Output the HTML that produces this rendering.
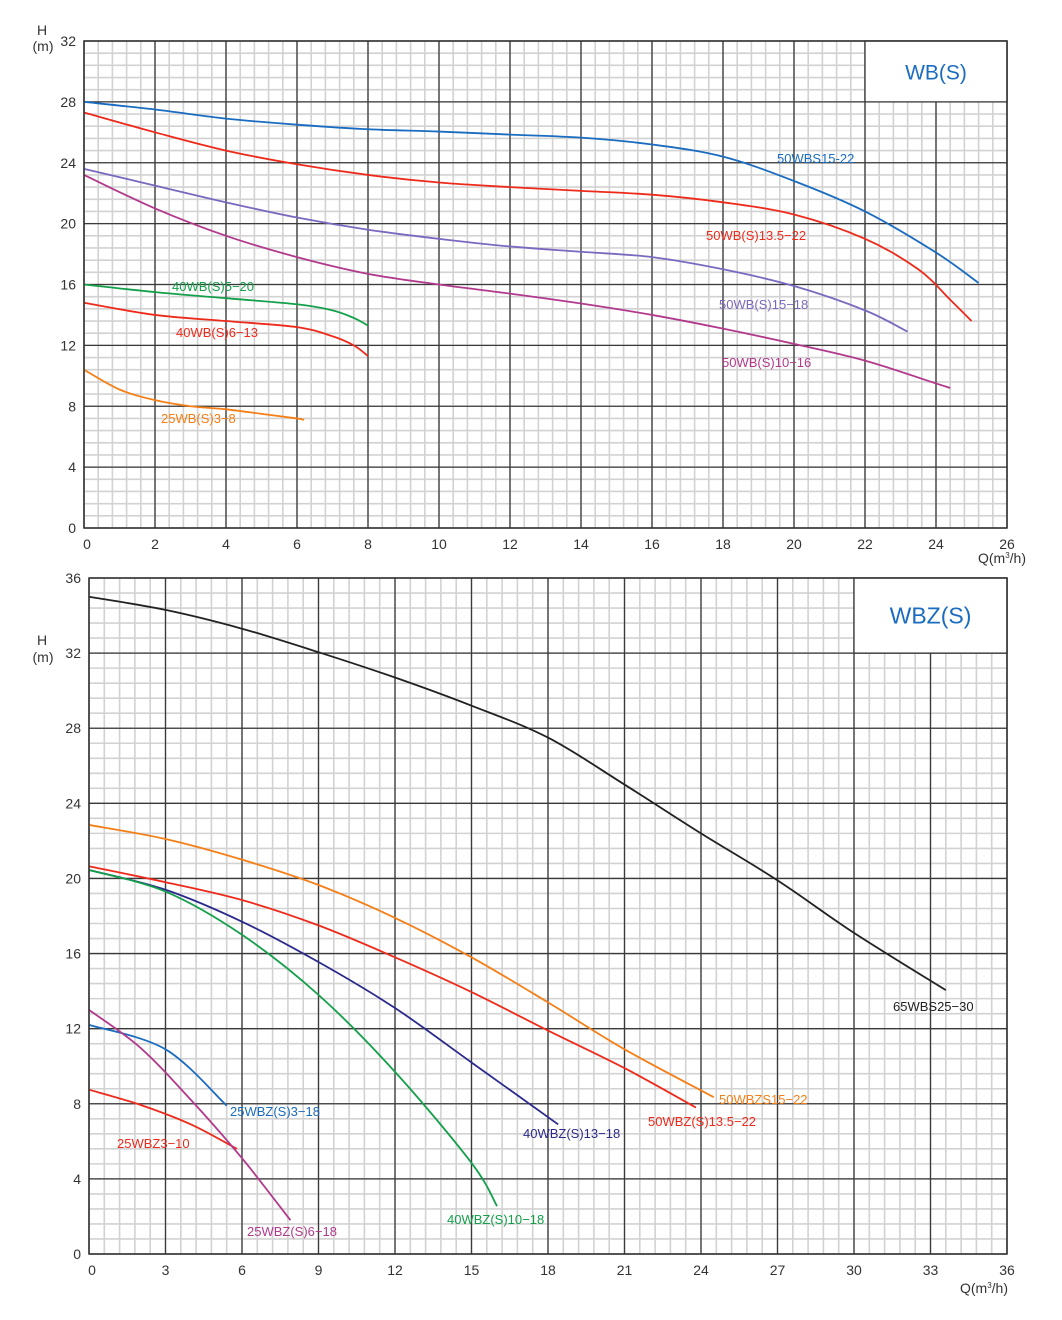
<!DOCTYPE html>
<html><head><meta charset="utf-8"><style>
html,body{margin:0;padding:0;background:#fff;}
svg{display:block;font-family:"Liberation Sans",Arial,sans-serif;}
</style></head><body>
<svg id="s" width="1062" height="1320" viewBox="0 0 1062 1320" xmlns="http://www.w3.org/2000/svg"></svg>
<script>
var S=document.getElementById('s'),h='';
function chart(o){
 var X=function(v){return o.x0+(v-o.xmin)/(o.xmax-o.xmin)*(o.x1-o.x0)};
 var Y=function(v){return o.y0-(v)/(o.ymax)*(o.y0-o.y1)};
 var nx=(o.xmax)/o.xmaj*5, ny=o.ymax/o.ymaj*5;
 for(var i=0;i<=nx;i++){var x=o.x0+i*(o.x1-o.x0)/nx;h+='<line x1="'+x+'" y1="'+o.y1+'" x2="'+x+'" y2="'+o.y0+'" stroke="#d2d2d2" stroke-width="1.6"/>';}
 for(var i=0;i<=ny;i++){var y=o.y0-i*(o.y0-o.y1)/ny;h+='<line x1="'+o.x0+'" y1="'+y+'" x2="'+o.x1+'" y2="'+y+'" stroke="#d2d2d2" stroke-width="1.6"/>';}
 for(var v=0;v<=o.xmax;v+=o.xmaj){var x=X(v);h+='<line x1="'+x+'" y1="'+o.y1+'" x2="'+x+'" y2="'+o.y0+'" stroke="#3a3a3a" stroke-width="1.3"/>';
  if(v<o.xmax||o.lastx)h+='<text x="'+(x+(v==0?3:0))+'" y="'+(o.y0+21)+'" font-size="14" fill="#333" text-anchor="middle">'+v+'</text>';}
 for(var v=0;v<=o.ymax;v+=o.ymaj){var y=Y(v);h+='<line x1="'+o.x0+'" y1="'+y+'" x2="'+o.x1+'" y2="'+y+'" stroke="#3a3a3a" stroke-width="1.3"/>';
  h+='<text x="'+(o.x0-8)+'" y="'+(y+5)+'" font-size="14" fill="#333" text-anchor="end">'+v+'</text>';}
 var bx=X(o.box[0]),by=Y(o.box[3]),bx2=X(o.box[1]),by2=Y(o.box[2]);
 h+='<rect x="'+bx+'" y="'+by+'" width="'+(bx2-bx)+'" height="'+(by2-by)+'" fill="#fff" stroke="#3a3a3a" stroke-width="1.3"/>';
 h+='<text x="'+((bx+bx2)/2)+'" y="'+((by+by2)/2+8)+'" font-size="'+o.bfs+'" fill="#1a6cc0" text-anchor="middle">'+o.btxt+'</text>';
 o.curves.forEach(function(c){
  var p=c.p.map(function(q){return [X(q[0]),Y(q[1])]}),d='M'+p[0][0]+' '+p[0][1];
  for(var i=0;i<p.length-1;i++){var a=p[Math.max(i-1,0)],b=p[i],e=p[i+1],f=p[Math.min(i+2,p.length-1)];
   d+=' C'+(b[0]+(e[0]-a[0])/6)+' '+(b[1]+(e[1]-a[1])/6)+' '+(e[0]-(f[0]-b[0])/6)+' '+(e[1]-(f[1]-b[1])/6)+' '+e[0]+' '+e[1];}
  h+='<path d="'+d+'" fill="none" stroke="'+c.c+'" stroke-width="1.8"/>';
  h+='<text x="'+c.l[0]+'" y="'+c.l[1]+'" font-size="13" fill="'+c.c+'">'+c.t+'</text>';
 });
 h+='<rect x="'+o.x0+'" y="'+o.y1+'" width="'+(o.x1-o.x0)+'" height="'+(o.y0-o.y1)+'" fill="none" stroke="#333" stroke-width="1.5"/>';
}
chart({x0:84,x1:1007,y0:528,y1:41,xmin:0,xmax:26,xmaj:2,ymax:32,ymaj:4,lastx:true,box:[22,26,28,32],btxt:'WB(S)',bfs:21,curves:[
 {c:'#1a6cc0',t:'50WBS15-22',l:[777,163],p:[[0,28],[2,27.5],[4,26.9],[6,26.5],[8,26.2],[10,26.05],[12,25.85],[14,25.65],[16,25.2],[18,24.4],[20,22.8],[22,20.8],[24,18.1],[25.2,16.1]]},
 {c:'#ee2a1b',t:'50WB(S)13.5−22',l:[706,240],p:[[0,27.3],[2,26],[4,24.8],[6,23.9],[8,23.2],[10,22.7],[12,22.4],[14,22.15],[16,21.9],[18,21.4],[20,20.6],[22,19],[23.5,17],[24.4,15],[25,13.6]]},
 {c:'#7b68c0',t:'50WB(S)15−18',l:[719,309],p:[[0,23.6],[2,22.5],[4,21.4],[6,20.4],[8,19.6],[10,19],[12,18.5],[14,18.15],[16,17.8],[18,17],[20,15.9],[22,14.3],[23.2,12.9]]},
 {c:'#b23a8c',t:'50WB(S)10−16',l:[722,367],p:[[0,23.2],[2,21],[4,19.2],[6,17.8],[8,16.7],[10,16],[12,15.4],[14,14.75],[16,14],[18,13.1],[20,12.1],[22,11],[24,9.5],[24.4,9.2]]},
 {c:'#14a04a',t:'40WB(S)5−20',l:[172,291],p:[[0,16],[2,15.5],[4,15.1],[6,14.7],[7,14.3],[7.6,13.8],[8,13.3]]},
 {c:'#ee2a1b',t:'40WB(S)6−13',l:[176,337],p:[[0,14.8],[2,14],[4,13.6],[6,13.2],[7,12.6],[7.6,12],[8,11.3]]},
 {c:'#f57f17',t:'25WB(S)3−8',l:[161,423],p:[[0,10.4],[1,9.1],[2,8.4],[3,8],[4,7.8],[5,7.5],[6,7.2],[6.2,7.1]]}
]});
chart({x0:89,x1:1007,y0:1254,y1:578,xmin:0,xmax:36,xmaj:3,ymax:36,ymaj:4,lastx:true,box:[30,36,32,36],btxt:'WBZ(S)',bfs:23,curves:[
 {c:'#222',t:'65WBS25−30',l:[893,1011],p:[[0,35],[3,34.3],[6,33.3],[9,32.05],[12,30.7],[15,29.2],[18,27.5],[21,25],[24,22.4],[27,19.9],[30,17.1],[33.6,14.05]]},
 {c:'#f57f17',t:'50WBZS15−22',l:[719,1104],p:[[0,22.85],[3,22.1],[6,21],[9,19.65],[12,17.9],[15,15.8],[18,13.4],[21,10.9],[24.5,8.35]]},
 {c:'#ee2a1b',t:'50WBZ(S)13.5−22',l:[648,1126],p:[[0,20.65],[3,19.8],[6,18.85],[9,17.5],[12,15.8],[15,13.95],[18,11.9],[21,9.9],[23.8,7.8]]},
 {c:'#2b2a8c',t:'40WBZ(S)13−18',l:[523,1138],p:[[0,20.45],[3,19.4],[6,17.7],[9,15.55],[12,13.1],[15,10.2],[18.4,6.9]]},
 {c:'#14a04a',t:'40WBZ(S)10−18',l:[447,1224],p:[[0,20.45],[3,19.3],[6,17],[9,13.8],[12,9.7],[15,4.85],[16,2.55]]},
 {c:'#1a6cc0',t:'25WBZ(S)3−18',l:[230,1116],p:[[0,12.2],[3,10.9],[5.4,7.9]]},
 {c:'#ee2a1b',t:'25WBZ3−10',l:[117,1148],p:[[0,8.75],[2,7.95],[4,6.9],[5.8,5.6]]},
 {c:'#b23a8c',t:'25WBZ(S)6−18',l:[247,1236],p:[[0,13],[2,11],[4,8.2],[6,5.1],[7.9,1.8]]}
]});
h+='<text x="42" y="35" font-size="14" fill="#333" text-anchor="middle">H</text><text x="43" y="51" font-size="14" fill="#333" text-anchor="middle">(m)</text>';
h+='<text x="42" y="645" font-size="14" fill="#333" text-anchor="middle">H</text><text x="43" y="662" font-size="14" fill="#333" text-anchor="middle">(m)</text>';
h+='<text x="978" y="563" font-size="14" fill="#333">Q(m<tspan font-size="8" dy="-5">3</tspan><tspan dy="5">/h)</tspan></text>';
h+='<text x="960" y="1293" font-size="14" fill="#333">Q(m<tspan font-size="8" dy="-5">3</tspan><tspan dy="5">/h)</tspan></text>';
S.innerHTML=h;
</script>
</body></html>
